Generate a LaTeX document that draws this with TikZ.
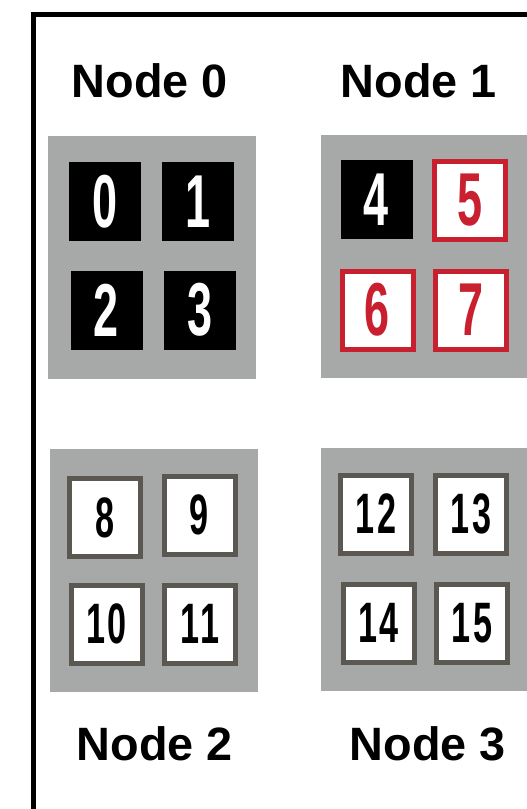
\documentclass[tikz,border=0pt]{standalone}
\usepackage{fontspec}
\setmainfont{Liberation Sans}
\newfontfamily\digitfont[FakeStretch=0.6]{Liberation Sans}
\newfontfamily\pairfont[FakeStretch=0.6, LetterSpace=4]{Liberation Sans}
\usetikzlibrary{positioning}
\definecolor{boxgray}{RGB}{166,169,168}
\definecolor{rimgray}{RGB}{91,88,82}
\definecolor{rimred}{RGB}{200,32,47}

\begin{document}
\begin{tikzpicture}[
    x=1pt, y=-1pt,
    machine/.style={rectangle, fill=boxgray, minimum width=208pt, minimum height=243pt, inner sep=0pt},
    title/.style={anchor=base, font=\fontsize{46.8}{50}\selectfont\bfseries},
    gpu/.style={rectangle, inner sep=0pt, font=\digitfont\bfseries\fontsize{75}{75}\selectfont},
    busy/.style={gpu, fill=black, text=white, minimum width=72pt, minimum height=79pt},
    free/.style={gpu, fill=white, draw=#1, line width=5pt, text=#1, minimum width=71pt, minimum height=78pt},
    free/.default=rimred,
    idle/.style={gpu, fill=white, draw=rimgray, line width=5pt, text=black, minimum width=71pt, minimum height=78pt,
        font=\pairfont\bfseries\fontsize{57}{57}\selectfont}
]

\clip (0,0) rectangle (527,809);

% Outer frame
\node[draw, line width=5pt, minimum width=600pt, minimum height=900pt, anchor=north west, inner sep=0pt] (frame) at (30.5,12) {};

% Machines
\node[machine] (box0) at (152,257.5) {};
\node[machine] (box1) at (425,256.5) {};
\node[machine] (box2) at (153.5,570.5) {};
\node[machine] (box3) at (425,569.5) {};

% Titles
\node[title] (t0) at (150,97) {Node 0};
\node[title] (t1) at (419,97) {Node 1};
\node[title] (t2) at (155,760) {Node 2};
\node[title] (t3) at (428,760) {Node 3};

% Node 0
\node[busy] (g0) at (105,201.5) {0};
\node[busy] (g1) at (198,201.5) {1};
\node[busy] (g2) at (106.5,310.5) {2};
\node[busy] (g3) at (200,310) {3};

% Node 1
\node[busy] (g4) at (376.5,199.5) {4};
\node[free] (g5) at (470,200) {5};
\node[free] (g6) at (377.5,310) {6};
\node[free] (g7) at (471,310) {7};

% Node 2
\node[idle] (g8) at (105,517.5) {8};
\node[idle] (g9) at (199.5,515) {9};
\node[idle] (g10) at (106.5,624) {10};
\node[idle] (g11) at (200,624) {11};

% Node 3
\node[idle] (g12) at (376,514) {12};
\node[idle] (g13) at (471,514) {13};
\node[idle] (g14) at (378.5,623) {14};
\node[idle] (g15) at (472,623) {15};

\end{tikzpicture}
\end{document}
